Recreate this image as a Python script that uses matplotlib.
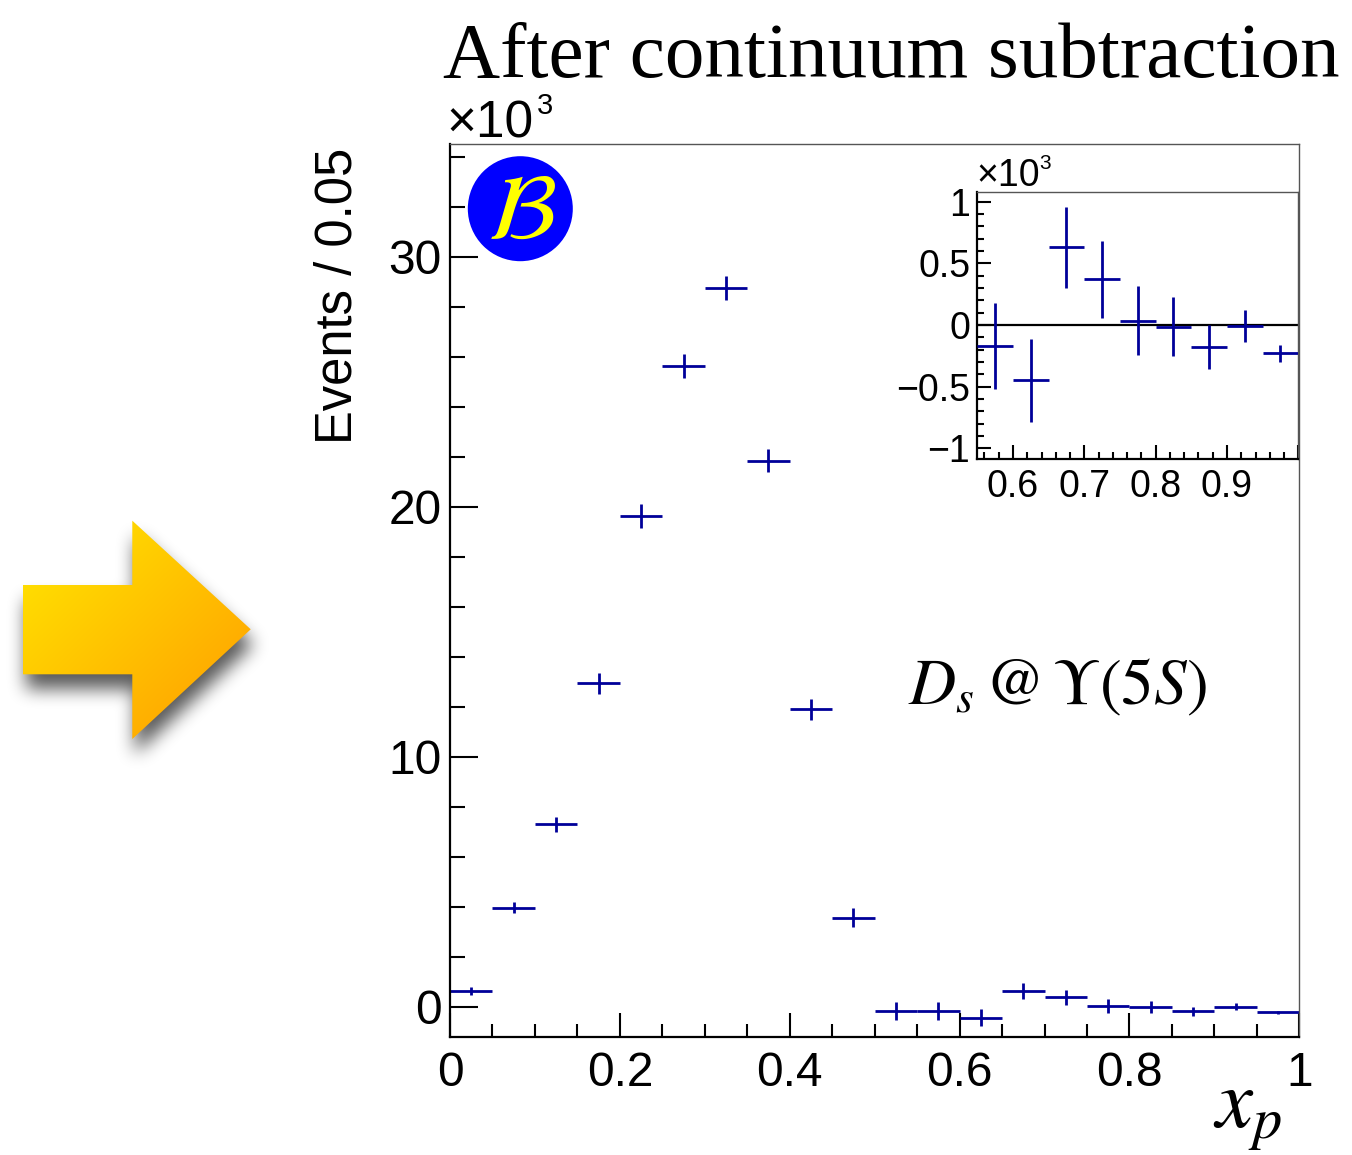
import numpy as np
import matplotlib
matplotlib.use("Agg")
import matplotlib.pyplot as plt
from matplotlib.patches import Polygon, Circle
from matplotlib.path import Path
from matplotlib.ticker import MultipleLocator, FixedLocator, FixedFormatter

plt.rcParams["mathtext.fontset"] = "stix"
plt.rcParams["font.family"] = ["Liberation Sans", "DejaVu Sans"]

# ── Data (events in units of 10^3, bins of width 0.05 in x_p) ────────────────
xp_centers = [0.025, 0.075, 0.125, 0.175, 0.225, 0.275, 0.325, 0.375, 0.425, 0.475,
              0.525, 0.575, 0.625, 0.675, 0.725, 0.775, 0.825, 0.875, 0.925, 0.975]
events_k = [0.64, 3.96, 7.29, 12.93, 19.63, 25.61, 28.75, 21.83, 11.89, 3.55,
            -0.19, -0.17, -0.45, 0.63, 0.37, 0.035, -0.015, -0.18, -0.005, -0.23]
errors_k = [0.16, 0.23, 0.31, 0.41, 0.47, 0.48, 0.48, 0.46, 0.42, 0.38,
            0.36, 0.35, 0.34, 0.33, 0.31, 0.28, 0.24, 0.18, 0.13, 0.07]
bin_half = 0.025

main_xticks = [0, 0.2, 0.4, 0.6, 0.8, 1.0]
main_xlabels = ["0", "0.2", "0.4", "0.6", "0.8", "1"]
main_yticks = [0, 10, 20, 30]
main_ylabels = ["0", "10", "20", "30"]
inset_xticks = [0.6, 0.7, 0.8, 0.9, 1.0]
inset_xlabels = ["0.6", "0.7", "0.8", "0.9", ""]
inset_yticks = [-1, -0.5, 0, 0.5, 1]
inset_ylabels = ["\u22121", "\u22120.5", "0", "0.5", "1"]

NAVY = "#000099"
W, H = 1352, 1155

fig = plt.figure(figsize=(W / 100, H / 100), dpi=100)


def style_frame(ax, lw_main=1.6):
    for s in ("left", "bottom"):
        ax.spines[s].set_linewidth(lw_main)
        ax.spines[s].set_color("black")
    for s in ("top", "right"):
        ax.spines[s].set_linewidth(1.0)
        ax.spines[s].set_color("#555555")


# ── Main panel ───────────────────────────────────────────────────────────────
ax = fig.add_axes([450 / W, 1 - 1037.3 / H, 849.3 / W, 893 / H])
ax.errorbar(xp_centers, events_k, xerr=bin_half, yerr=errors_k, fmt="none",
            ecolor=NAVY, elinewidth=2.0, capsize=0)
ax.set_xlim(0, 1)
ax.set_ylim(-1.23, 34.49)
style_frame(ax)
ax.xaxis.set_major_locator(FixedLocator(main_xticks))
ax.xaxis.set_major_formatter(FixedFormatter(main_xlabels))
ax.xaxis.set_minor_locator(MultipleLocator(0.05))
ax.yaxis.set_major_locator(FixedLocator(main_yticks))
ax.yaxis.set_major_formatter(FixedFormatter(main_ylabels))
ax.yaxis.set_minor_locator(MultipleLocator(2))
ax.tick_params(axis="y", which="major", direction="in", length=20, width=1.5, pad=6, labelsize=34.5)
ax.tick_params(axis="y", which="minor", direction="in", length=11, width=1.5)
ax.tick_params(axis="x", which="major", direction="in", length=17, width=1.5, pad=10, labelsize=34.5)
ax.tick_params(axis="x", which="minor", direction="in", length=9.5, width=1.5)

fig.text(338 / W, 1 - 148 / H, "Events / 0.05", rotation=90, ha="center", va="top", fontsize=36.5)
fig.text(446 / W, 1 - 137 / H, "\u00d710", ha="left", va="baseline", fontsize=37)
fig.text(537 / W, 1 - 114 / H, "3", ha="left", va="baseline", fontsize=21)

# ── Inset ────────────────────────────────────────────────────────────────────
ins = fig.add_axes([977.3 / W, 1 - 459 / H, 321 / W, 266.7 / H])
sel = [i for i, c in enumerate(xp_centers) if c > 0.55]
ins.errorbar([xp_centers[i] for i in sel], [events_k[i] for i in sel],
             xerr=bin_half, yerr=[errors_k[i] for i in sel], fmt="none",
             ecolor=NAVY, elinewidth=2.0, capsize=0, zorder=3)
ins.axhline(0, color="black", lw=1.6, zorder=2)
ins.set_xlim(0.55, 1.0)
ins.set_ylim(-1.087, 1.076)
style_frame(ins)
ins.xaxis.set_major_locator(FixedLocator(inset_xticks))
ins.xaxis.set_major_formatter(FixedFormatter(inset_xlabels))
ins.xaxis.set_minor_locator(MultipleLocator(0.02))
ins.yaxis.set_major_locator(FixedLocator(inset_yticks))
ins.yaxis.set_major_formatter(FixedFormatter(inset_ylabels))
ins.yaxis.set_minor_locator(MultipleLocator(0.1))
ins.tick_params(axis="both", which="major", direction="in", length=10, width=1.5, labelsize=27)
ins.tick_params(axis="y", which="major", pad=5)
ins.tick_params(axis="x", which="major", pad=7)
ins.tick_params(axis="both", which="minor", direction="in", length=5, width=1.5)

fig.text(976 / W, 1 - 186 / H, "\u00d710", ha="left", va="baseline", fontsize=27)
fig.text(1039 / W, 1 - 169 / H, "3", ha="left", va="baseline", fontsize=15)

# ── Texts ────────────────────────────────────────────────────────────────────
fig.text(443 / W, 1 - 77 / H, "After continuum subtraction", ha="left", va="baseline",
         fontsize=57, family="Liberation Serif")
fig.text(908 / W, 1 - 704 / H, r"$D_s\,$@$\,\Upsilon(5S)$", ha="left", va="baseline",
         fontsize=47, family="STIXGeneral")
fig.text(1282 / W, 1 - 1128 / H, r"$x_p$", ha="right", va="baseline", fontsize=60)

# ── Overlay in pixel coordinates: arrow and logo ─────────────────────────────
ov = fig.add_axes([0, 0, 1, 1], zorder=5)
ov.axis("off")
ov.patch.set_alpha(0)

arrow_pts = np.array([[22.7, 585], [132.3, 585], [132.3, 520.7], [250.7, 629.3],
                      [132.3, 739], [132.3, 674.3], [22.7, 674.3]])

# soft drop shadow: rasterised mask, shifted and box-blurred a few times
sx0, sx1, sy0, sy1 = 0, 310, 470, 820
gxs, gys = np.meshgrid(np.arange(sx0, sx1) + 0.5, np.arange(sy0, sy1) + 0.5)
shadow_path = Path(arrow_pts + np.array([3, 15]))
mask = shadow_path.contains_points(np.c_[gxs.ravel(), gys.ravel()]).reshape(gxs.shape).astype(float)
kernel = np.ones(17) / 17
for _ in range(3):
    mask = np.apply_along_axis(lambda r: np.convolve(r, kernel, mode="same"), 1, mask)
    mask = np.apply_along_axis(lambda c: np.convolve(c, kernel, mode="same"), 0, mask)
shadow_rgba = np.zeros(mask.shape + (4,))
shadow_rgba[..., 3] = 0.65 * mask
ov.imshow(shadow_rgba, extent=(sx0, sx1, sy1, sy0), aspect="auto", zorder=1,
          interpolation="bilinear")

x0, x1 = arrow_pts[:, 0].min(), arrow_pts[:, 0].max()
y0, y1 = arrow_pts[:, 1].min(), arrow_pts[:, 1].max()
gx, gy = np.meshgrid(np.linspace(0, 1, 200), np.linspace(0, 1, 200))
t = np.clip((gx * 0.6 + gy * 0.6), 0, 1)[..., None]
c_start = np.array([1.0, 0.91, 0.0])
c_end = np.array([1.0, 0.66, 0.0])
grad = c_start * (1 - t) + c_end * t
arrow_patch = Polygon(arrow_pts, closed=True, fc="none", ec="none")
ov.add_patch(arrow_patch)
im = ov.imshow(grad, extent=(x0, x1, y1, y0), aspect="auto", zorder=3)
im.set_clip_path(arrow_patch)

ov.add_patch(Circle((520.3, 208.7), 52.5, fc="#0000FF", ec="none", zorder=4))
ov.text(521, 214, r"$\mathcal{B}$", ha="center", va="center", color="#FFFF00",
        fontsize=68, zorder=5)

ov.set_xlim(0, W)
ov.set_ylim(H, 0)

fig.savefig("out.png", dpi=100)
